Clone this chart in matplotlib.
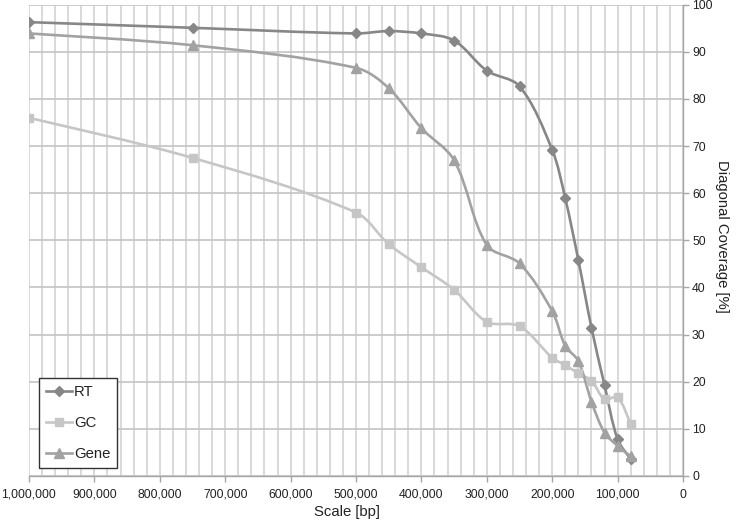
import matplotlib
matplotlib.use("Agg")
import numpy as np
import matplotlib.pyplot as plt
import matplotlib.ticker as ticker
from matplotlib.path import Path
from matplotlib.patches import PathPatch
from matplotlib.lines import Line2D

# ---- data ----
scale_bp = [1000000, 750000, 500000, 450000, 400000, 350000, 300000, 250000,
            200000, 180000, 160000, 140000, 120000, 100000, 80000]
rt_cov   = [96.3, 95.1, 93.9, 94.4, 93.9, 92.4, 86.0, 82.7,
            69.2, 58.9, 45.8, 31.5, 19.3, 7.8, 3.6]
gc_cov   = [76.0, 67.5, 55.9, 49.2, 44.3, 39.5, 32.7, 31.8,
            25.1, 23.5, 21.8, 20.2, 16.3, 16.7, 11.0]
gene_cov = [93.9, 91.4, 86.6, 82.3, 73.8, 67.0, 49.0, 45.1,
            35.0, 27.6, 24.4, 15.8, 9.2, 6.4, 4.2]

series_names = ["RT", "GC", "Gene"]
series_vals  = [rt_cov, gc_cov, gene_cov]
colors  = ["#878787", "#c6c6c6", "#a2a2a2"]
markers = ["D", "s", "^"]
msizes  = [5.0, 6.0, 6.5]

plt.rcParams["font.family"] = ["Liberation Sans", "DejaVu Sans"]
TXT = "#222222"

# pixel-ish scale of the axes, used only to shape the smoothed curve
SX, SY = 654 / 1e6, 4.713


def smooth_path(x, y):
    # smoothed line: cubic Bezier through every point, tangents scaled by chord length
    p = np.column_stack([np.asarray(x, float) * SX, np.asarray(y, float) * SY])
    n = len(p)
    d = np.hypot(*np.diff(p, axis=0).T)
    tang = np.zeros_like(p)
    for i in range(n):
        if 0 < i < n - 1:
            tang[i] = (p[i + 1] - p[i - 1]) / (d[i - 1] + d[i])
        elif i == 0:
            tang[i] = (p[1] - p[0]) / (2 * d[0])
        else:
            tang[i] = (p[-1] - p[-2]) / (2 * d[-1])
    verts = [p[0]]
    codes = [Path.MOVETO]
    for i in range(n - 1):
        c1 = p[i] + tang[i] * d[i] / 3.0
        c2 = p[i + 1] - tang[i + 1] * d[i] / 3.0
        verts += [c1, c2, p[i + 1]]
        codes += [Path.CURVE4] * 3
    verts = np.array(verts) / [SX, SY]
    return Path(verts, codes)


fig = plt.figure(figsize=(7.36, 5.26), dpi=100)
ax = fig.add_axes([29 / 736, 50 / 526, 654 / 736, 471.3 / 526])

ax.set_xlim(1000000, 0)
ax.set_ylim(0, 100)

# grid
ax.xaxis.set_major_locator(ticker.MultipleLocator(100000))
ax.xaxis.set_minor_locator(ticker.MultipleLocator(20000))
ax.yaxis.set_major_locator(ticker.MultipleLocator(10))
ax.grid(True, axis="x", which="both", color="#d3d3d3", linewidth=1.2)
ax.grid(True, axis="y", which="major", color="#c4c4c4", linewidth=1.2)
ax.set_axisbelow(True)

for name, vals, c, m, ms in zip(series_names, series_vals, colors, markers, msizes):
    ax.add_patch(PathPatch(smooth_path(scale_bp, vals), fill=False,
                           edgecolor=c, linewidth=1.9, zorder=3,
                           capstyle="round", joinstyle="round"))
    ax.plot(scale_bp, vals, linestyle="none", marker=m, markersize=ms,
            color=c, zorder=4)

# axes styling
for s in ["left", "top"]:
    ax.spines[s].set_visible(False)
for s in ["bottom", "right"]:
    ax.spines[s].set_color("#a6a6a6")
    ax.spines[s].set_linewidth(1.0)

ax.yaxis.tick_right()
ax.tick_params(axis="y", which="major", direction="out", length=4, width=1,
               color="#a6a6a6", labelsize=8.8, labelcolor=TXT, pad=2.5)
ax.tick_params(axis="x", which="major", direction="out", length=4, width=1,
               color="#a6a6a6", labelsize=8.8, labelcolor=TXT, pad=5)
ax.tick_params(axis="x", which="minor", length=0)
ax.xaxis.set_major_formatter(ticker.FuncFormatter(lambda v, p: f"{int(round(v)):,}"))

ax.set_xlabel("Scale [bp]", fontsize=10.7, color=TXT, va="center")
ax.xaxis.set_label_coords((347 - 29) / 654, -0.0764)
ax.yaxis.set_label_position("right")
ax.set_ylabel("Diagonal Coverage [%]", fontsize=10.7, color=TXT,
              rotation=270, va="center")
ax.yaxis.set_label_coords((722 - 29) / 654, 0.508)

handles = [Line2D([], [], color=c, marker=m, markersize=ms, linewidth=1.9)
           for c, m, ms in zip(colors, markers, msizes)]
leg = ax.legend(handles, series_names, loc="lower left",
                bbox_to_anchor=(0.0157, 0.017), borderaxespad=0,
                fontsize=10.7, labelspacing=1.15, handlelength=1.75,
                handletextpad=0.15, borderpad=0.45, fancybox=False,
                framealpha=1, edgecolor="#333333")
leg.get_frame().set_linewidth(1.0)
for t in leg.get_texts():
    t.set_color(TXT)

fig.savefig("out.png", dpi=100)
